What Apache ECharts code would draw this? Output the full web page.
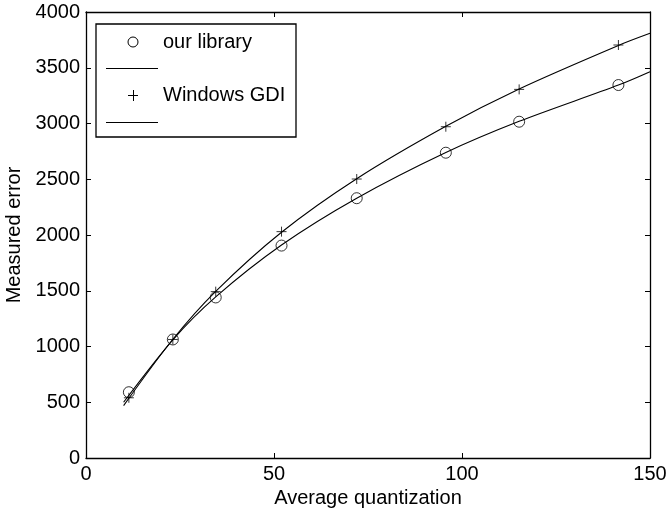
<!DOCTYPE html>
<html><head><meta charset="utf-8">
<script src="https://cdn.jsdelivr.net/npm/echarts@6/dist/echarts.min.js"></script>
<style>html,body{margin:0;padding:0;background:#fff}#c{width:668px;height:513px}</style>
</head><body><div id="c"></div>
<script>
var xTicks = [0, 50, 100, 150];
var yTicks = [0, 500, 1000, 1500, 2000, 2500, 3000, 3500, 4000];
var quant = [11.4, 23.1, 34.5, 52, 72, 95.7, 115.2, 141.6];
var libraryErr = [590, 1063, 1440, 1905, 2330, 2738, 3016, 3345];
var gdiErr = [540, 1063, 1492, 2030, 2502, 2971, 3306, 3704];
var fitX = [10, 23.1, 34.5, 52, 72, 95.7, 115.2, 141.6, 150];
var libraryFit = [500, 1060, 1445, 1910, 2330, 2740, 3020, 3345, 3465];
var gdiFit = [470, 1065, 1495, 2025, 2505, 2975, 3310, 3700, 3809];
var names = ['our library', 'Windows GDI'];

function pairs(xs, ys){ return xs.map(function(x,i){ return [x, ys[i]]; }); }
var FONT = 'Liberation Sans';
var plusPath = 'path://M0,5L10,5M5,0L5,10';
var chart = echarts.init(document.getElementById('c'), null, {renderer:'canvas'});
var axisCommon = {
  axisLine:{show:true,onZero:false,lineStyle:{color:'#000',width:1.3}},
  axisTick:{show:true,inside:true,length:5,lineStyle:{color:'#000'}},
  splitLine:{show:false}
};
function plain(v){ return String(v); }
chart.setOption({
  animation:false,
  backgroundColor:'#fff',
  textStyle:{fontFamily:FONT},
  grid:{left:86,right:18,top:12,bottom:55,containLabel:false,outerBoundsMode:'none'},
  xAxis:[
    Object.assign({type:'value',min:xTicks[0],max:xTicks[xTicks.length-1],interval:50,position:'bottom',
      name:'Average quantization',nameLocation:'middle',nameGap:27,
      nameTextStyle:{fontSize:20,color:'#000',fontFamily:FONT},
      axisLabel:{color:'#000',fontSize:20,fontFamily:FONT,margin:6,formatter:plain}}, axisCommon),
    Object.assign({type:'value',min:xTicks[0],max:xTicks[xTicks.length-1],interval:50,position:'top',
      axisLabel:{show:false}}, axisCommon)
  ],
  yAxis:[
    Object.assign({type:'value',min:yTicks[0],max:yTicks[yTicks.length-1],interval:500,position:'left',
      name:'Measured error',nameLocation:'middle',nameGap:58,
      nameTextStyle:{fontSize:20,color:'#000',fontFamily:FONT},
      axisLabel:{color:'#000',fontSize:20,fontFamily:FONT,margin:6,formatter:plain}}, axisCommon),
    Object.assign({type:'value',min:yTicks[0],max:yTicks[yTicks.length-1],interval:500,position:'right',
      axisLabel:{show:false}}, axisCommon)
  ],
  series:[
    {name:names[0]+' fit',type:'line',data:pairs(fitX,libraryFit),smooth:0.3,showSymbol:false,
      lineStyle:{color:'#000',width:1.1},z:2},
    {name:names[1]+' fit',type:'line',data:pairs(fitX,gdiFit),smooth:0.3,showSymbol:false,
      lineStyle:{color:'#000',width:1.1},z:2},
    {name:names[0],type:'scatter',data:pairs(quant,libraryErr),symbol:'circle',symbolSize:11,
      itemStyle:{color:'rgba(0,0,0,0)',borderColor:'#000',borderWidth:1},z:3},
    {name:names[1],type:'scatter',data:pairs(quant,gdiErr),symbol:plusPath,symbolSize:10,
      itemStyle:{color:'none',borderColor:'#000',borderWidth:1},z:3}
  ],
  graphic:[
    {type:'rect',shape:{x:96,y:24,width:200,height:113},style:{fill:'#fff',stroke:'#000',lineWidth:1.3},z:10},
    {type:'circle',shape:{cx:133,cy:42,r:5},style:{fill:'none',stroke:'#000',lineWidth:1},z:11},
    {type:'text',x:163,y:42,style:{text:names[0],fontSize:20,fontFamily:FONT,fill:'#000',verticalAlign:'middle'},z:11},
    {type:'line',shape:{x1:106,y1:68.5,x2:158,y2:68.5},style:{stroke:'#000',lineWidth:1},z:11},
    {type:'line',shape:{x1:128,y1:95.5,x2:138,y2:95.5},style:{stroke:'#000',lineWidth:1},z:11},
    {type:'line',shape:{x1:133.5,y1:90,x2:133.5,y2:101},style:{stroke:'#000',lineWidth:1},z:11},
    {type:'text',x:163,y:95,style:{text:names[1],fontSize:20,fontFamily:FONT,fill:'#000',verticalAlign:'middle'},z:11},
    {type:'line',shape:{x1:106,y1:122.5,x2:158,y2:122.5},style:{stroke:'#000',lineWidth:1},z:11}
  ]
});
</script></body></html>
